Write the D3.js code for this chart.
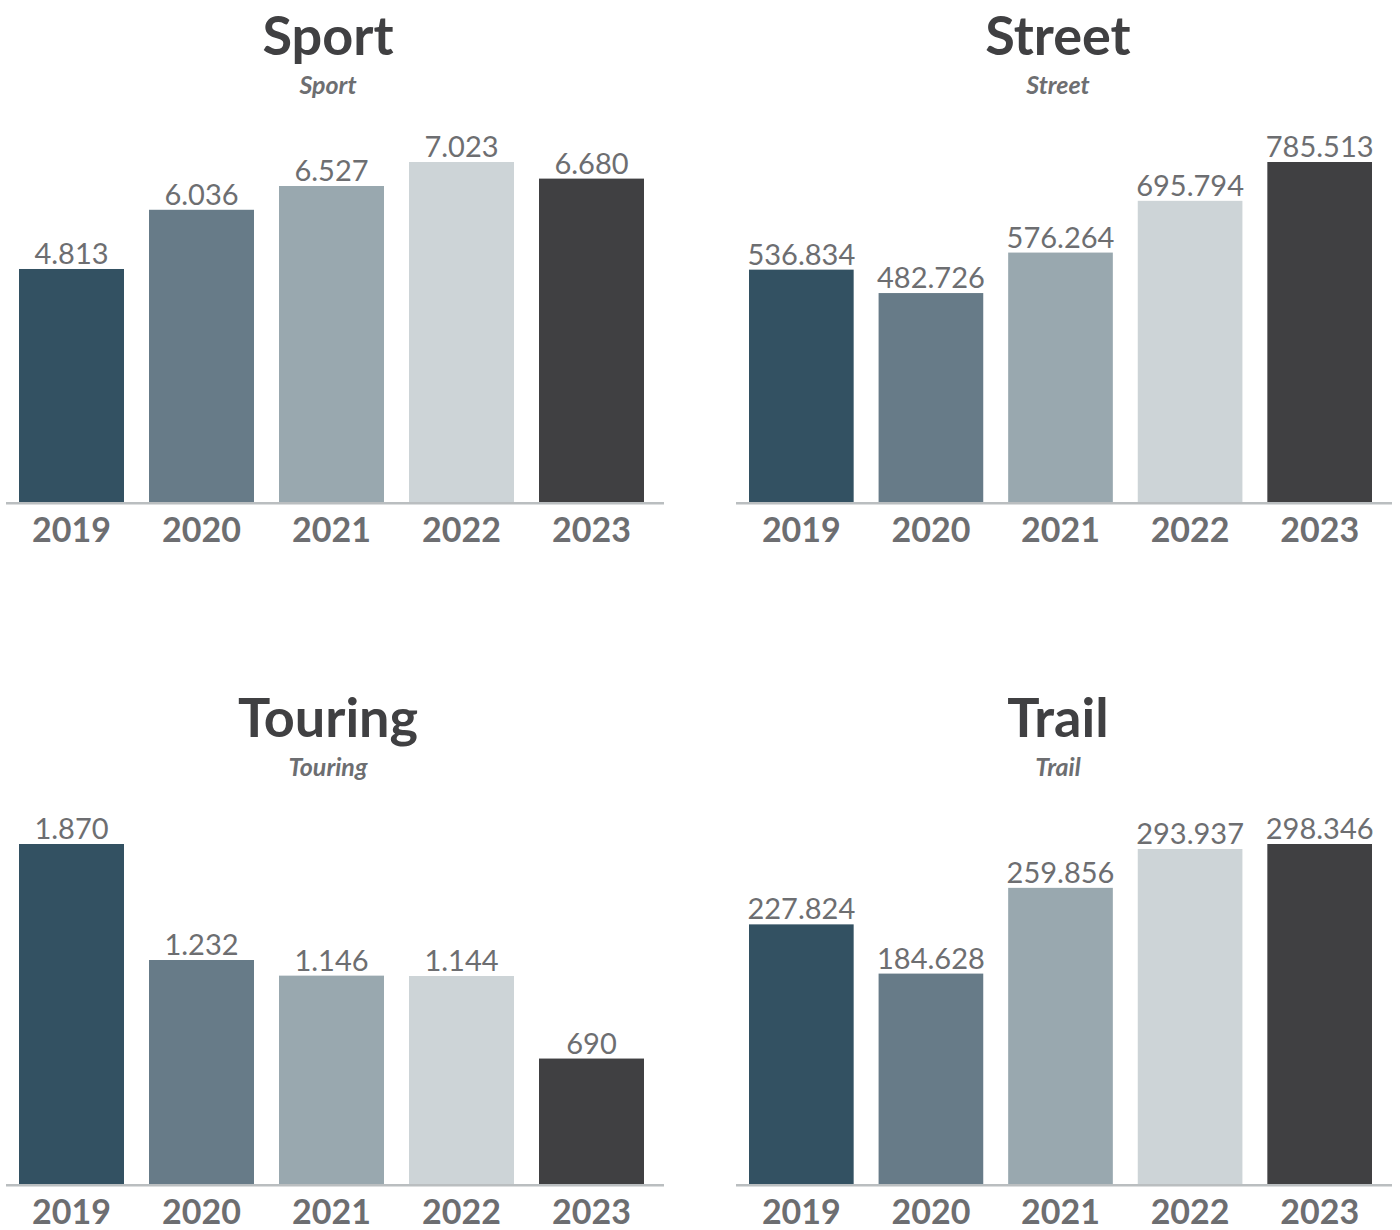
<!DOCTYPE html>
<html>
<head>
<meta charset="utf-8">
<script src="https://cdn.jsdelivr.net/npm/d3@7"></script>
<style>
  body { margin: 0; background: #fff; }
  svg text { font-family: Lato, "Open Sans", sans-serif; }
</style>
</head>
<body>
<div id="chart"></div>
<script>
// data
var years = ["2019", "2020", "2021", "2022", "2023"];
var sportValues   = [4813, 6036, 6527, 7023, 6680];
var streetValues  = [536834, 482726, 576264, 695794, 785513];
var touringValues = [1870, 1232, 1146, 1144, 690];
var trailValues   = [227824, 184628, 259856, 293937, 298346];
var panelTitles = ["Sport", "Street", "Touring", "Trail"];

var barColors = ["#335162", "#677b88", "#99a8af", "#cdd4d7", "#404042"];

var panels = [
  { title: panelTitles[0], values: sportValues,   x0: 19,  w: 625, base: 502 },
  { title: panelTitles[1], values: streetValues,  x0: 749, w: 623, base: 502 },
  { title: panelTitles[2], values: touringValues, x0: 19,  w: 625, base: 1184 },
  { title: panelTitles[3], values: trailValues,   x0: 749, w: 623, base: 1184 }
];

var locale = d3.formatLocale({ decimal: ",", thousands: ".", grouping: [3], currency: ["", ""] });
var fmt = locale.format(",d");

var svg = d3.select("#chart").append("svg")
  .attr("width", 1400)
  .attr("height", 1230);

panels.forEach(function(p) {
  var g = svg.append("g");

  var x = d3.scaleBand()
    .domain(years)
    .range([p.x0, p.x0 + p.w])
    .paddingInner(25 / 130)
    .paddingOuter(0);

  var y = d3.scaleLinear()
    .domain([0, d3.max(p.values)])
    .range([p.base, p.base - 340]);

  // titles
  g.append("text")
    .attr("x", p.x0 + 309)
    .attr("y", p.base - 447)
    .attr("text-anchor", "middle")
    .style("font-size", "54px")
    .style("font-weight", 700)
    .style("fill", "#404042")
    .text(p.title);

  g.append("text")
    .attr("x", p.x0 + 309)
    .attr("y", p.base - 408)
    .attr("text-anchor", "middle")
    .style("font-size", "25px")
    .style("font-weight", 700)
    .style("font-style", "italic")
    .style("fill", "#6d6e71")
    .text(p.title);

  // bars
  g.selectAll("rect.bar")
    .data(p.values)
    .enter()
    .append("rect")
      .attr("class", "bar")
      .attr("x", function(d, i) { return x(years[i]); })
      .attr("y", function(d) { return y(d); })
      .attr("width", x.bandwidth())
      .attr("height", function(d) { return y(0) - y(d); })
      .style("fill", function(d, i) { return barColors[i]; });

  // value labels
  g.selectAll("text.val")
    .data(p.values)
    .enter()
    .append("text")
      .attr("class", "val")
      .attr("x", function(d, i) { return x(years[i]) + x.bandwidth() / 2; })
      .attr("y", function(d) { return y(d) - 5; })
      .attr("text-anchor", "middle")
      .style("font-size", "29px")
      .style("fill", "#6d6e71")
      .text(function(d) { return fmt(d); });

  // baseline
  g.append("line")
    .attr("x1", p.x0 - 13)
    .attr("x2", p.x0 + p.w + 20)
    .attr("y1", p.base + 1.25)
    .attr("y2", p.base + 1.25)
    .style("stroke", "#babec0")
    .style("stroke-width", 2.5);

  // year axis
  var axis = g.append("g")
    .attr("transform", "translate(0," + p.base + ")")
    .call(d3.axisBottom(x).tickSize(0).tickPadding(16));

  axis.select(".domain").remove();
  axis.selectAll("text")
    .style("font-family", "Lato, sans-serif")
    .style("font-size", "34px")
    .style("font-weight", 700)
    .style("fill", "#6d6e71");
});
</script>
</body>
</html>
